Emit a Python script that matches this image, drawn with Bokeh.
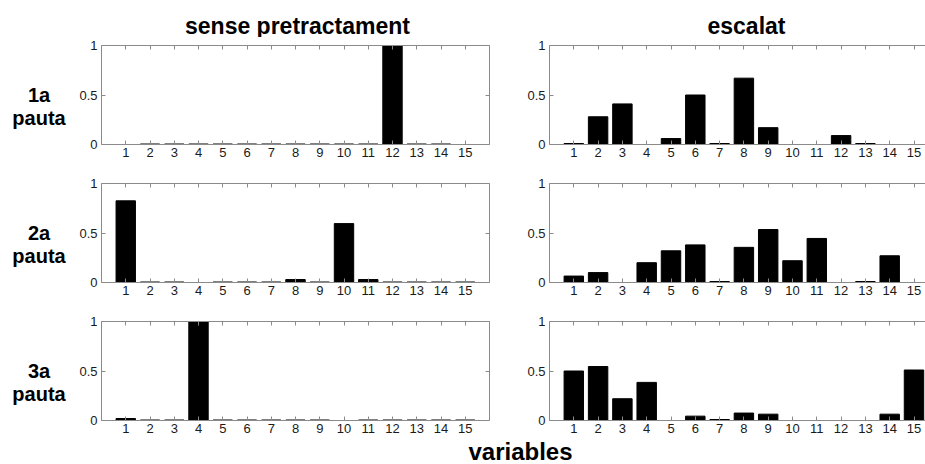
from bokeh.plotting import figure
from bokeh.models import Range1d, LinearAxis, FixedTicker, ColumnDataSource, CustomLabelingPolicy
from bokeh.core.properties import value
from bokeh.layouts import column, row
from bokeh.embed import file_html
from bokeh.resources import INLINE

# ---- data ----
variables = list(range(1, 16))
col_titles = ["sense pretractament", "escalat"]
row_labels = [("1a", "pauta"), ("2a", "pauta"), ("3a", "pauta")]
x_label = "variables"

sense_1a = [0, 0.005, 0.005, 0.005, 0.005, 0.005, 0.005, 0.005, 0.005, 0.005, 0.005, 1.0, 0.005, 0.005, 0]
sense_2a = [0.825, 0.005, 0.005, 0, 0.005, 0.005, 0.005, 0.03, 0.005, 0.595, 0.03, 0.005, 0.005, 0.005, 0.005]
sense_3a = [0.02, 0.005, 0.005, 1.0, 0.005, 0.005, 0.005, 0.005, 0.005, 0, 0.005, 0.005, 0.005, 0.005, 0.005]

escalat_1a = [0.01, 0.28, 0.41, 0, 0.06, 0.50, 0.01, 0.67, 0.17, 0, 0, 0.09, 0.01, 0, 0]
escalat_2a = [0.065, 0.10, 0, 0.20, 0.32, 0.38, 0.01, 0.355, 0.535, 0.22, 0.445, 0, 0.01, 0.27, 0]
escalat_3a = [0.50, 0.545, 0.22, 0.385, 0, 0.044, 0.01, 0.075, 0.064, 0, 0, 0, 0, 0.064, 0.51]

y_ticks = [0, 0.5, 1]
y_tick_labels = {0: "0", 0.5: "0.5", 1: "1"}

FONT = "Liberation Sans"
AX_COLOR = "#8a8a8a"
TXT_COLOR = "#1a1a1a"
NO_LABELS = "for (const i of indices) { indices.unset(i) }\nreturn indices"


def style_axis(ax, labels=True, ticks=None, overrides=None, standoff=4):
    ax.axis_line_color = AX_COLOR
    ax.major_tick_line_color = AX_COLOR
    ax.major_tick_in = 4
    ax.major_tick_out = 0
    ax.minor_tick_line_color = None
    ax.axis_label = None
    ax.major_label_text_font = FONT
    ax.major_label_text_color = TXT_COLOR
    if ticks is not None:
        ax.ticker = FixedTicker(ticks=ticks)
    if overrides is not None:
        ax.major_label_overrides = overrides
    if labels:
        ax.major_label_text_font_size = "13px"
        ax.major_label_standoff = standoff
    else:
        ax.major_label_text_font_size = "1px"
        ax.major_label_standoff = 0
        ax.major_label_policy = CustomLabelingPolicy(code=NO_LABELS)


def blank_fig(w, h):
    f = figure(width=w, height=h, x_range=Range1d(0, w), y_range=Range1d(0, h),
               title=None, toolbar_location=None, output_backend="svg", min_border=0)
    f.axis.visible = False
    f.grid.visible = False
    f.outline_line_color = None
    f.background_fill_color = "white"
    f.border_fill_color = "white"
    return f


def panel(vals, left_col, r):
    fw = 388 if left_col else 376
    xend = 16 if left_col else fw / 24.3
    bt = 8 if r == 0 else 19
    bb = 20 if r < 2 else 18
    bl = 31 if left_col else 40
    br = 20 if left_col else 0
    p = figure(frame_width=fw, frame_height=99,
               x_range=Range1d(0, xend), y_range=Range1d(0, 1),
               title=None, toolbar_location=None, output_backend="svg",
               min_border_left=bl, min_border_right=br,
               min_border_top=bt, min_border_bottom=bb)
    p.outline_line_color = None
    p.grid.visible = False
    p.background_fill_color = "white"
    p.border_fill_color = "white"

    src = ColumnDataSource(dict(x=variables, top=vals))
    p.vbar(x="x", top="top", bottom=0, width=0.8, source=src,
           fill_color="black", line_color="black", line_width=1)

    style_axis(p.xaxis[0], True, variables, standoff=3)
    style_axis(p.yaxis[0], True, y_ticks, y_tick_labels, standoff=4)
    top_ax = LinearAxis()
    style_axis(top_ax, False, variables)
    p.add_layout(top_ax, "above")
    if left_col:
        right_ax = LinearAxis()
        style_axis(right_ax, False, y_ticks)
        p.add_layout(right_ax, "right")
    return p


# text glyphs render a few px below their anchor; compensate
TITLE_SHIFT = 7
LABEL_SHIFT = 8

# ---- title strip (page y 0..37) ----
title_fig = blank_fig(925, 37)
title_fig.text(x=[297, 746], y=[5 + TITLE_SHIFT] * 2, text=col_titles,
               text_align="center", text_baseline="alphabetic",
               text_font=value(FONT), text_font_style="bold",
               text_font_size="23px", text_color="black")

# ---- row label strip (spans page y 37..438) ----
label_fig = blank_fig(70, 401)
lx, ly, lt = [], [], []
for r, (l1, l2) in enumerate(row_labels):
    frame_bottom = 144 + 138 * r
    for txt, off in ((l1, 42), (l2, 19)):
        lx.append(38.5)
        ly.append(438 - (frame_bottom - off) + LABEL_SHIFT)
        lt.append(txt)
label_fig.text(x=lx, y=ly, text=lt, text_align="center", text_baseline="alphabetic",
               text_font=value(FONT), text_font_style="bold",
               text_font_size="20px", text_color="black")

rows = []
data = [(sense_1a, escalat_1a), (sense_2a, escalat_2a), (sense_3a, escalat_3a)]
for r, (lv, rv) in enumerate(data):
    rows.append(row(panel(lv, True, r), panel(rv, False, r)))

# ---- x label strip (page y 438..464) ----
bottom = blank_fig(925, 26)
bottom.text(x=[520], y=[5 + LABEL_SHIFT], text=[x_label], text_align="center", text_baseline="alphabetic",
            text_font=value(FONT), text_font_style="bold",
            text_font_size="24px", text_color="black")

layout = column(title_fig, row(label_fig, column(*rows)), bottom)
open("out.html", "w").write(file_html(layout, INLINE))
